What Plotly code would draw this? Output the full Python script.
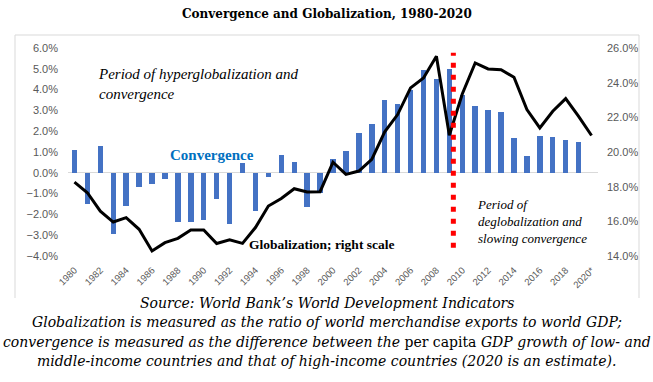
import plotly.graph_objects as go

years = list(range(1980, 2021))
tick_years = years[::2]
tick_labels = [str(y) for y in tick_years[:-1]] + ["2020*"]

# Convergence (left axis, %): per-capita growth gap, low/middle-income minus high-income
convergence = [1.12, -1.52, 1.31, -2.92, -1.60, -0.69, -0.56, -0.31, -2.37, -2.37,
               -2.25, -1.24, -2.44, 0.45, -1.85, -0.21, 0.85, 0.54, -1.65, -0.96,
               0.64, 1.04, 1.89, 2.37, 3.52, 3.33, 4.00, 4.92, 4.50, 5.01,
               3.72, 3.19, 3.04, 2.90, 1.65, 0.83, 1.79, 1.70, 1.60, 1.46, None]

# Globalization (right axis, %): world merchandise exports / world GDP
globalization = [18.26, 17.65, 16.59, 15.96, 16.21, 15.54, 14.29, 14.77, 15.02, 15.50,
                 15.50, 14.72, 14.93, 14.73, 15.64, 16.88, 17.32, 17.88, 17.69, 17.71,
                 19.41, 18.71, 18.90, 19.57, 21.16, 22.16, 23.70, 24.27, 25.52, 20.97,
                 23.35, 25.14, 24.79, 24.75, 24.31, 22.45, 21.39, 22.35, 23.08, 22.06, 20.95]

break_year = 2009.31
break_span = [-3.6, 5.77]

caption_lines = [
    "<i>Source: World Bank’s World Development Indicators</i>",
    "<i>Globalization is measured as the ratio of world merchandise exports to world GDP;</i>",
    "<i>convergence is measured as the difference between the </i>per capita<i> GDP growth of low- and</i>",
    "<i>middle-income countries and that of high-income countries (2020 is an estimate).</i>",
]
caption_y = [303, 322, 341.5, 361]

W, H = 653, 382
ML, MR, MT, MB = 68, 55, 48, 126
PW, PH = W - ML - MR, H - MT - MB


def px(x):
    return (x - ML) / PW


def py(y):
    return (H - MB - y) / PH


fig = go.Figure()
fig.add_trace(go.Bar(x=years, y=convergence, width=0.42, marker_color="#4472C4",
                     marker_line_width=0, name="Convergence", yaxis="y"))
fig.add_trace(go.Scatter(x=years, y=globalization, mode="lines",
                         line=dict(color="black", width=3), name="Globalization",
                         yaxis="y2"))

fig.add_shape(type="line", xref="x", yref="y", x0=break_year, x1=break_year,
              y0=break_span[0], y1=break_span[1],
              line=dict(color="#FF0000", width=5, dash="5px,7px"))

# chart-area border (top, left, right)
fig.add_shape(type="path", xref="paper", yref="paper",
              path=f"M {px(15)},{py(298)} L {px(15)},{py(35)} L {px(639)},{py(35)} L {px(639)},{py(298)}",
              line=dict(color="#D9D9D9", width=1))

serif = "Liberation Serif, Times New Roman, serif"
wide_serif = "DejaVu Serif, serif"
annos = [
    dict(text="<b>Convergence and Globalization, 1980-2020</b>", x=px(326.5), y=py(13.5),
         xanchor="center", yanchor="middle", font=dict(size=12, color="black", family=wide_serif)),
    dict(text="<i>Period of hyperglobalization and<br>convergence</i>", x=px(96), y=py(84),
         xanchor="left", yanchor="middle", align="left",
         font=dict(size=15, color="black", family=serif)),
    dict(text="<b>Convergence</b>", x=px(211.7), y=py(155), xanchor="center", yanchor="middle",
         font=dict(size=15, color="#0070C0", family=serif)),
    dict(text="<b>Globalization; right scale</b>", x=px(247), y=py(244.3), xanchor="left",
         yanchor="middle", font=dict(size=13.5, color="black", family=serif)),
    dict(text="<i>Period of<br>deglobalization and<br>slowing convergence</i>", x=px(475), y=py(221),
         xanchor="left", yanchor="middle", align="left",
         font=dict(size=13, color="black", family=serif)),
]
for line, yc in zip(caption_lines, caption_y):
    annos.append(dict(text=line, x=px(326.5), y=py(yc), xanchor="center", yanchor="middle",
                      font=dict(size=14, color="black", family=wide_serif)))

for a in annos:
    a["xref"] = "paper"
    a["yref"] = "paper"
    a["showarrow"] = False
    fig.add_annotation(**a)

tickfont = dict(family="Liberation Sans, Arial, sans-serif", size=11, color="#595959")
fig.update_layout(
    width=W, height=H, autosize=False,
    margin=dict(l=ML, r=MR, t=MT, b=MB, pad=0),
    paper_bgcolor="white", plot_bgcolor="white",
    showlegend=False, bargap=0,
    xaxis=dict(range=[1979.5, 2020.5], tickmode="array", tickvals=tick_years, ticktext=tick_labels,
               tickangle=-45, tickfont=dict(family="Liberation Sans, Arial, sans-serif", size=9.5, color="#595959"),
               showgrid=False, zeroline=False, showline=False, ticks="", ticklabelstandoff=6),
    yaxis=dict(range=[-4, 6], dtick=1, tickformat=".1f", ticksuffix="%", tickfont=tickfont,
               showgrid=False, zeroline=True, zerolinecolor="#D9D9D9", zerolinewidth=1,
               showline=False, ticks="", ticklabelstandoff=9),
    yaxis2=dict(range=[14, 26], dtick=2, tickformat=".1f", ticksuffix="%", tickfont=tickfont,
                overlaying="y", side="right", showgrid=False, zeroline=False, showline=False,
                ticks="", ticklabelstandoff=8),
)

fig.write_html("out.html", config={"displayModeBar": False},
               post_script="document.body.style.margin='0px';")
